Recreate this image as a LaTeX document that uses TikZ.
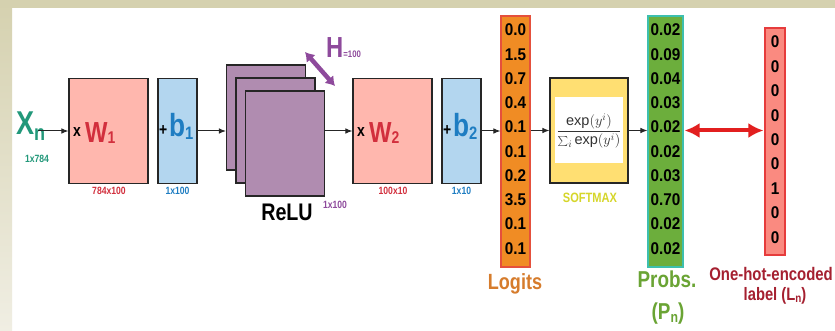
\documentclass[tikz,border=0pt]{standalone}
\usepackage{fontspec}
\setmainfont{Liberation Sans}
\newfontfamily\cnd[FakeStretch=0.82]{Liberation Sans}
\newfontfamily\cndn[FakeStretch=0.9]{Liberation Sans}
\usetikzlibrary{arrows.meta}

\definecolor{frameTop}{HTML}{D5D1AF}
\definecolor{frameBot}{HTML}{F0EEE3}
\definecolor{wFill}{HTML}{FFB7AE}
\definecolor{wText}{HTML}{D22F3D}
\definecolor{bFill}{HTML}{B3D6EF}
\definecolor{bText}{HTML}{1E7DC2}
\definecolor{hFill}{HTML}{B08CB0}
\definecolor{hText}{HTML}{8E4A9C}
\definecolor{xText}{HTML}{22987A}
\definecolor{logFill}{HTML}{F08C24}
\definecolor{logLine}{HTML}{E5503C}
\definecolor{logText}{HTML}{D67C2C}
\definecolor{smFill}{HTML}{FFDF72}
\definecolor{smText}{HTML}{D6D62A}
\definecolor{prFill}{HTML}{6CAE3C}
\definecolor{prLine}{HTML}{3DBFAE}
\definecolor{prText}{HTML}{6AA434}
\definecolor{ohFill}{HTML}{FA8A80}
\definecolor{ohLine}{HTML}{E63C3C}
\definecolor{ohText}{HTML}{A52030}
\definecolor{pairRed}{HTML}{E21F1F}

\newcommand\fsz[1]{\fontsize{#1}{#1}\selectfont}

\begin{document}
\begin{tikzpicture}[x=1pt,y=-1pt,
  blk/.style={draw=black!85, line width=1.1pt, inner sep=0pt,
              minimum width=79, minimum height=105},
  bias/.style={blk, minimum width=39, fill=bFill},
  relu/.style={blk, fill=hFill},
  col/.style={line width=1.1pt, inner sep=0pt, minimum height=251},
  arr/.style={-{Latex[length=7pt,width=5.5pt]}, line width=1pt, draw=black!85},
  dimtxt/.style={inner sep=0pt, font=\cnd\bfseries\fsz{10.5}},
  num/.style={inner sep=0pt, font=\cndn\bfseries\fsz{17}},
  txt/.style={inner sep=0pt},
  big/.style={txt, anchor=base west, font=\cnd\bfseries\fsz{29}},
]
% page frame
\clip (0,0) rectangle (835,331);
\fill[white] (0,0) rectangle (835,331);
\shade[top color=frameTop, bottom color=frameBot] (0,0) rectangle (12,331);
\fill[frameTop] (0,0) rectangle (835,8);

% input
\node[txt, anchor=base west, text=xText, font=\cnd\bfseries\fsz{33}] (X) at (16,135)
  {X\raisebox{-6pt}{\fsz{22}n}};
\node[dimtxt, text=xText] (Xd) at (37,159) {1x784};

% first layer
\node[blk, fill=wFill] (W1) at (108.5,131) {};
\node[txt, anchor=base west, font=\cnd\bfseries\fsz{17}] (W1x) at (73,137) {x};
\node[big, text=wText] (W1t) at (85,143) {W\raisebox{-1pt}{\fsz{17}1}};
\node[dimtxt, text=wText] (W1d) at (109,191) {784x100};

\node[bias] (B1) at (177.5,131) {};
\node[txt, anchor=base west, font=\cnd\bfseries\fsz{17}] (B1p) at (159,136) {+};
\node[big, text=bText, font=\cnd\bfseries\fsz{32}] (B1t) at (169,137)
  {b\raisebox{-3pt}{\fsz{18}1}};
\node[dimtxt, text=bText] (B1d) at (177.5,191) {1x100};

% hidden layer (stacked)
\node[relu] (R1) at (266,117.5) {};
\node[relu] (R2) at (275.5,130.5) {};
\node[relu] (R3) at (285,143.5) {};
\node[txt, anchor=base, font=\cnd\bfseries\fsz{24}] (Rl) at (287,220) {ReLU};
\node[dimtxt, text=hText] (Rd) at (335,205) {1x100};
\coordinate (hA) at (305,52);
\coordinate (hB) at (335,86);
\draw[hText, line width=4.5pt, {Latex[length=9pt,width=12pt]}-{Latex[length=9pt,width=12pt]}] (hA) -- (hB);
\node[big, text=hText] (Ht) at (326,58) {H\fsz{9.5}=100};

% second layer
\node[blk, fill=wFill] (W2) at (392.5,131) {};
\node[txt, anchor=base west, font=\cnd\bfseries\fsz{17}] (W2x) at (357,137) {x};
\node[big, text=wText] (W2t) at (369,143) {W\raisebox{-1pt}{\fsz{17}2}};
\node[dimtxt, text=wText] (W2d) at (393,191) {100x10};

\node[bias] (B2) at (461.5,131) {};
\node[txt, anchor=base west, font=\cnd\bfseries\fsz{17}] (B2p) at (443,136) {+};
\node[big, text=bText, font=\cnd\bfseries\fsz{32}] (B2t) at (453,137)
  {b\raisebox{-3pt}{\fsz{18}2}};
\node[dimtxt, text=bText] (B2d) at (461.5,191) {1x10};

% logits
\node[col, draw=logLine, fill=logFill, minimum width=29] (L) at (515.5,141.5) {};
\foreach \v [count=\i from 0] in {0.0,1.5,0.7,0.4,0.1,0.1,0.2,3.5,0.1,0.1}
  \node[num] (l\i) at (515.5,{30+24.25*\i}) {\v};
\node[txt, anchor=base, text=logText, font=\cnd\bfseries\fsz{22}] (Lt) at (515,289) {Logits};

% softmax
\node[blk, fill=smFill, minimum width=78] (SM) at (589,130.5) {};
\node[inner sep=0pt, fill=white, minimum width=68, minimum height=66] (SMin) at (589,130) {};
\node[txt, text=black!80, font=\fsz{14.5}] (SMf) at (589,131)
  {$\displaystyle\frac{\exp(y^i)}{\sum_i \exp(y^i)}$};
\node[txt, text=smText, font=\cnd\bfseries\fsz{13.5}] (SMt) at (590,197.5) {SOFTMAX};

% probabilities
\node[col, draw=prLine, fill=prFill, minimum width=35] (P) at (665.5,141.5) {};
\foreach \v [count=\i from 0] in {0.02,0.09,0.04,0.03,0.02,0.02,0.03,0.70,0.02,0.02}
  \node[num] (p\i) at (665.5,{30+24.25*\i}) {\v};
\node[txt, anchor=base, text=prText, font=\cnd\bfseries\fsz{23}] (Pt) at (667,287) {Probs.};
\node[txt, anchor=base, text=prText, font=\cnd\bfseries\fsz{23}] (Pn) at (668,319)
  {(P\raisebox{-3pt}{\fsz{15}n})};

% one-hot label
\node[col, draw=ohLine, fill=ohFill, minimum width=20, minimum height=227] (OH) at (775,141.5) {};
\foreach \v [count=\i from 0] in {0,0,0,0,0,0,1,0,0}
  \node[num] (o\i) at (775,{42+24.4*\i}) {\v};
\node[txt, anchor=base east, text=ohText, font=\cnd\bfseries\fsz{18.2}] (OHt) at (833,280) {One-hot-encoded};
\node[txt, anchor=base, text=ohText, font=\cnd\bfseries\fsz{18}] (OHl) at (775,300)
  {label (L\raisebox{-2pt}{\fsz{12}n})};

% connectors
\draw[arr] ([xshift=-7pt]X.east |- W1.west) -- (W1.west);
\draw[arr] (B1.east) -- (B1.east -| R1.west);
\draw[arr] (R3.east |- W2.west) -- (W2.west);
\draw[arr] (B2.east) -- (B2.east -| L.west);
\draw[arr] (L.east |- SM.west) -- (SM.west);
\draw[arr] (SM.east) -- (SM.east -| P.west);
\draw[pairRed, line width=4pt, {Latex[length=15pt,width=15pt]}-{Latex[length=15pt,width=15pt]}]
  ([xshift=1pt]P.east |- SM.east) -- ([xshift=-1pt]OH.west |- SM.east);
\end{tikzpicture}
\end{document}
